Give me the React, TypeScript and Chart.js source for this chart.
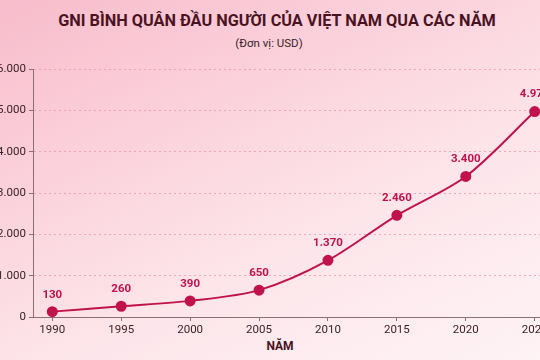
import React, { useEffect, useRef } from "react";
import { Chart, registerables } from "chart.js";

Chart.register(...registerables);

const years = [1990, 1995, 2000, 2005, 2010, 2015, 2020, 2025];
const gniValues = [130, 260, 390, 650, 1370, 2460, 3400, 4970];
const yTickValues = [0, 1000, 2000, 3000, 4000, 5000, 6000];
const titleText = "GNI BÌNH QUÂN ĐẦU NGƯỜI CỦA VIỆT NAM QUA CÁC NĂM";
const unitText = "(Đơn vị: USD)";
const xAxisTitle = "NĂM";

const CRIMSON = "#c0124c";
const DARK = "#4a1322";
const TICK = "#3b2228";
const AXIS = "#8a7076";
const GRID = "rgba(238, 150, 175, 0.8)";
const FONT = "Roboto, 'DejaVu Sans', sans-serif";

function fmt(v: number): string {
  return String(Math.round(v)).replace(/\B(?=(\d{3})+(?!\d))/g, ".");
}

const valueLabels = {
  id: "valueLabels",
  afterDatasetsDraw(chart: any) {
    const ctx = chart.ctx;
    const meta = chart.getDatasetMeta(0);
    ctx.save();
    ctx.font = `bold 11.5px ${FONT}`;
    ctx.fillStyle = CRIMSON;
    ctx.textAlign = "center";
    ctx.textBaseline = "middle";
    meta.data.forEach((pt: any, i: number) => {
      ctx.fillText(fmt(gniValues[i]), pt.x, pt.y - 17);
    });
    ctx.restore();
  },
};

export default function App() {
  const ref = useRef<HTMLCanvasElement | null>(null);

  useEffect(() => {
    if (!ref.current) return;
    const chart = new Chart(ref.current, {
      type: "line",
      data: {
        datasets: [
          {
            data: years.map((y, i) => ({ x: y, y: gniValues[i] })),
            borderColor: CRIMSON,
            backgroundColor: CRIMSON,
            pointBackgroundColor: CRIMSON,
            pointBorderColor: CRIMSON,
            pointRadius: 4.5,
            borderWidth: 2,
            tension: 0.3,
            clip: false as any,
          },
        ],
      },
      options: {
        animation: false,
        responsive: false,
        maintainAspectRatio: false,
        layout: { padding: { top: 69, right: 26, left: 0, bottom: 0 } },
        plugins: {
          legend: { display: false },
          tooltip: { enabled: false },
        },
        scales: {
          x: {
            type: "linear",
            min: 1988.6,
            max: 2026.4,
            afterBuildTicks: (s: any) => {
              s.ticks = years.map((v) => ({ value: v }));
            },
            afterFit: (s: any) => {
              s.height = 43;
            },
            ticks: {
              callback: (v: any) => String(v),
              font: { family: FONT, size: 11.5 },
              color: TICK,
              padding: 2,
              maxRotation: 0,
              autoSkip: false,
            },
            grid: {
              display: true,
              drawOnChartArea: false,
              tickLength: 4,
              tickColor: AXIS,
            },
            border: { display: true, color: AXIS, width: 1 },
          },
          y: {
            min: 0,
            max: 6000,
            afterBuildTicks: (s: any) => {
              s.ticks = yTickValues.map((v) => ({ value: v }));
            },
            afterFit: (s: any) => {
              s.width = 53;
            },
            ticks: {
              callback: (v: any) => fmt(Number(v)),
              font: { family: FONT, size: 11.5 },
              color: TICK,
              padding: 3,
            },
            grid: {
              color: GRID,
              lineWidth: 1,
              tickLength: 4,
              tickColor: AXIS,
            },
            border: { display: true, color: AXIS, width: 1, dash: [2, 3] },
          },
        },
      },
      plugins: [valueLabels],
    });
    return () => chart.destroy();
  }, []);

  return (
    <div
      style={{
        position: "fixed",
        left: 0,
        top: 0,
        width: 540,
        height: 360,
        overflow: "hidden",
        background:
          "linear-gradient(155deg, #f8bccb 0%, #fbd0da 30%, #fde5ea 62%, #fef3f5 100%)",
        fontFamily: FONT,
      }}
    >
      <div
        style={{
          position: "absolute",
          left: 0,
          width: 554,
          top: 11,
          textAlign: "center",
          fontWeight: 700,
          fontSize: 16.3,
          color: DARK,
          whiteSpace: "nowrap",
        }}
      >
        {titleText}
      </div>
      <div
        style={{
          position: "absolute",
          left: 0,
          width: 538,
          top: 36,
          textAlign: "center",
          fontSize: 11.5,
          color: "#3b2228",
        }}
      >
        {unitText}
      </div>
      <div
        style={{
          position: "absolute",
          left: 0,
          width: 560,
          top: 339,
          textAlign: "center",
          fontWeight: 700,
          fontSize: 12,
          color: DARK,
        }}
      >
        {xAxisTitle}
      </div>
      <canvas
        ref={ref}
        width={600}
        height={360}
        style={{ position: "absolute", left: -20, top: 0, width: 600, height: 360 }}
      />
    </div>
  );
}
